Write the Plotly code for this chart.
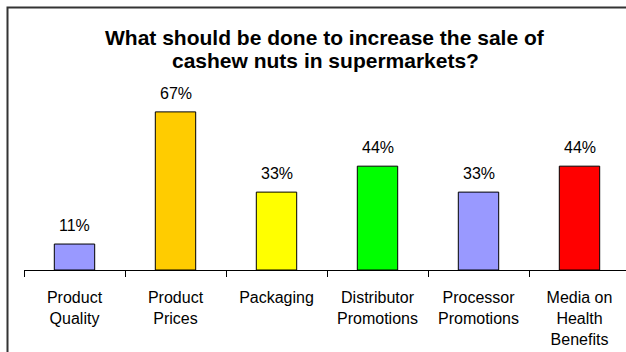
import plotly.graph_objects as go

categories = ["Product<br>Quality", "Product<br>Prices", "Packaging",
              "Distributor<br>Promotions", "Processor<br>Promotions",
              "Media on<br>Health<br>Benefits"]
values = [11, 67, 33, 44, 33, 44]
value_labels = ["11%", "67%", "33%", "44%", "33%", "44%"]
bar_colors = ["#9999FF", "#FFCC00", "#FFFF00", "#00FF00", "#9999FF", "#FF0000"]
title_lines = ["What should be done to increase the sale of",
               "cashew nuts in supermarkets?"]

FONT = "Liberation Sans, Arial, sans-serif"
W, H = 626, 352
ML, MR, MT, MB = 24, 0, 93, 82
plot_w = W - ML - MR
plot_h = H - MT - MB
cat_px = 101.0  # pixels per category slot

fig = go.Figure(go.Bar(
    x=categories,
    y=values,
    width=0.4,
    marker=dict(color=bar_colors, line=dict(color="#000000", width=1)),
    hoverinfo="skip",
))

# value labels above each bar
for cat, v, lab in zip(categories, values, value_labels):
    fig.add_annotation(x=cat, y=v, text=lab, showarrow=False,
                       xref="x", yref="y", yanchor="bottom", yshift=8,
                       font=dict(family=FONT, size=16, color="#000000"))

# title, one annotation per line for tighter line spacing
for line, top_px in zip(title_lines, [37, 60]):
    fig.add_annotation(x=0.5, xref="paper", y=(MT + plot_h - top_px) / plot_h,
                       yref="paper", yanchor="middle", showarrow=False,
                       text=f"<b>{line}</b>",
                       font=dict(family=FONT, size=21, color="#000000"))

# chart frame
fx0 = (7.5 - ML) / plot_w
fy1 = (MT + plot_h - 7.5) / plot_h
fig.add_shape(type="rect", xref="paper", yref="paper",
              x0=fx0, x1=1.2, y0=-1.0, y1=fy1,
              line=dict(color="#333333", width=2), fillcolor="rgba(0,0,0,0)")

fig.update_layout(
    width=W, height=H,
    margin=dict(l=ML, r=MR, t=MT, b=MB, pad=0),
    paper_bgcolor="#FFFFFF", plot_bgcolor="#FFFFFF",
    showlegend=False,
    font=dict(family=FONT, size=16, color="#000000"),
    xaxis=dict(
        type="category",
        range=[-0.5, -0.5 + plot_w / cat_px],
        tickson="boundaries",
        ticks="outside", ticklen=6, tickwidth=1, tickcolor="#000000",
        showline=True, linecolor="#000000", linewidth=1,
        showgrid=False, zeroline=False,
        tickfont=dict(family=FONT, size=16, color="#000000"),
        ticklabelstandoff=13,
        fixedrange=True,
    ),
    yaxis=dict(
        range=[0, 75], visible=False, showgrid=False, zeroline=False,
        fixedrange=True,
    ),
)

fig.write_html("out.html")
